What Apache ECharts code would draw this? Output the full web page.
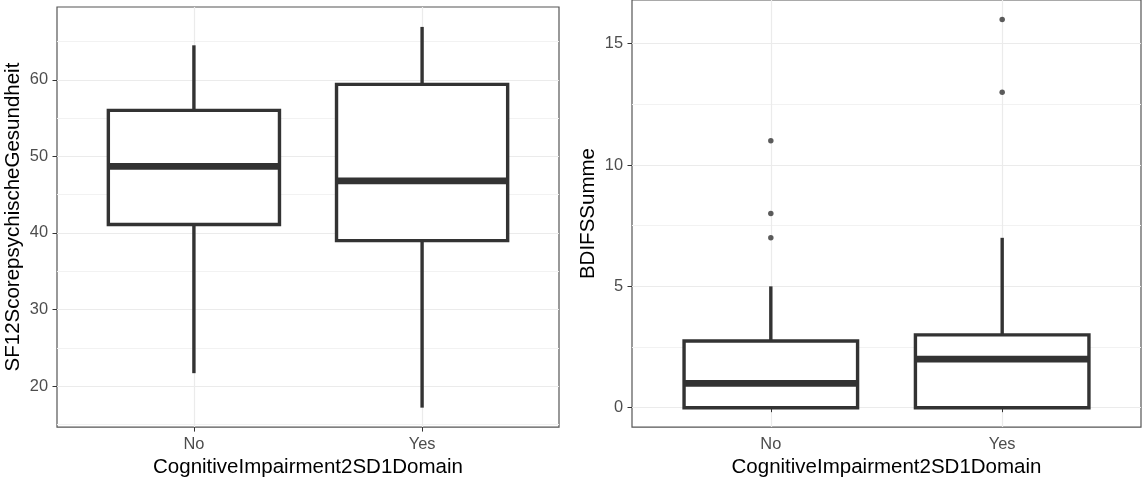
<!DOCTYPE html>
<html lang="en">
<head>
<meta charset="UTF-8">
<title>Boxplots</title>
<script src="https://cdn.jsdelivr.net/npm/echarts@6/dist/echarts.min.js"></script>
<style>html,body{margin:0;padding:0;background:#fff;}</style>
</head>
<body>
<div id="main" style="width:1143px;height:483px;"></div>
<script>
// x categories
const categories = ['No', 'Yes'];
// five-number summaries: [lower whisker, Q1, median, Q3, upper whisker]
const sfNo = [21.7, 41.1, 48.7, 56.0, 64.5];
const sfYes = [17.2, 39.0, 46.8, 59.4, 66.9];
const bdiNo = [0, 0, 1, 2.75, 5];
const bdiYes = [0, 0, 2, 3, 7];
// outliers (BDI panel)
const bdiOutNo = [7, 8, 11];
const bdiOutYes = [13, 16];
// y tick labels
const sfTicks = [20, 30, 40, 50, 60];
const bdiTicks = [0, 5, 10, 15];

const FONT = '"Liberation Sans", Arial, sans-serif';
const INK = '#333333';

const sfData = [sfNo, sfYes].map((s, i) => [i + 1].concat(s));
const bdiData = [bdiNo, bdiYes].map((s, i) => [i + 1].concat(s));
const bdiOut = bdiOutNo.map(v => [1, v]).concat(bdiOutYes.map(v => [2, v]));

// draws one ggplot-style box: whiskers, box, thick median
function renderBox(params, api) {
    const x = api.value(0);
    const half = api.size([0.75, 0])[0] / 2;
    const lo = api.coord([x, api.value(1)]);
    const q1 = api.coord([x, api.value(2)]);
    const med = api.coord([x, api.value(3)]);
    const q3 = api.coord([x, api.value(4)]);
    const hi = api.coord([x, api.value(5)]);
    const st = { stroke: INK, lineWidth: 3.4, fill: null };
    return {
        type: 'group',
        children: [
            { type: 'line', shape: { x1: q3[0], y1: q3[1], x2: hi[0], y2: hi[1] }, style: st },
            { type: 'line', shape: { x1: q1[0], y1: q1[1], x2: lo[0], y2: lo[1] }, style: st },
            { type: 'rect', shape: { x: q3[0] - half, y: q3[1], width: half * 2, height: q1[1] - q3[1] },
              style: { fill: '#ffffff', stroke: INK, lineWidth: 3.4 } },
            { type: 'line', shape: { x1: med[0] - half, y1: med[1], x2: med[0] + half, y2: med[1] },
              style: { stroke: INK, lineWidth: 6.8 } }
        ]
    };
}

function xAxisFor(idx) {
    return {
        type: 'value', gridIndex: idx, min: 0.4, max: 2.6,
        axisLine: { show: false },
        axisTick: { show: true, customValues: [1, 2], length: 4.5, lineStyle: { color: INK, width: 1 } },
        axisLabel: {
            customValues: [1, 2], formatter: v => categories[Math.round(v) - 1],
            color: '#4d4d4d', fontSize: 16.4, fontFamily: FONT, margin: 9
        },
        splitLine: { show: true, lineStyle: { color: '#ebebeb', width: 1.2 } },
        name: 'CognitiveImpairment2SD1Domain', nameLocation: 'middle', nameGap: 29,
        nameTextStyle: { color: '#000', fontSize: 20.5, fontFamily: FONT }
    };
}

function yAxisFor(idx, min, max, split, ticks, name) {
    return {
        type: 'value', gridIndex: idx, min: min, max: max, splitNumber: split,
        axisLine: { show: false },
        axisTick: { show: true, customValues: ticks, length: 4.5, lineStyle: { color: INK, width: 1 } },
        axisLabel: { customValues: ticks, color: '#4d4d4d', fontSize: 16.4, fontFamily: FONT, margin: 9 },
        splitLine: { show: true, lineStyle: { color: '#ebebeb', width: 1.2 } },
        minorTick: { show: false, splitNumber: 2 },
        minorSplitLine: { show: true, lineStyle: { color: '#f2f2f2', width: 1 } },
        name: name, nameLocation: 'middle', nameRotate: 90, nameGap: 33,
        nameTextStyle: { color: '#000', fontSize: 20.5, fontFamily: FONT }
    };
}

const chart = echarts.init(document.getElementById('main'));
chart.setOption({
    animation: false,
    backgroundColor: '#ffffff',
    grid: [
        { left: 57, top: 7, width: 502, height: 421, show: true, borderColor: '#555555', borderWidth: 1.2, backgroundColor: 'transparent' },
        { left: 632, top: 0, width: 509, height: 428, show: true, borderColor: '#555555', borderWidth: 1.2, backgroundColor: 'transparent' }
    ],
    xAxis: [xAxisFor(0), xAxisFor(1)],
    yAxis: [
        yAxisFor(0, 14.66, 69.5, 5, sfTicks, 'SF12ScorepsychischeGesundheit'),
        yAxisFor(1, -0.8, 16.8, 3, bdiTicks, 'BDIFSSumme')
    ],
    series: [
        { type: 'custom', xAxisIndex: 0, yAxisIndex: 0, renderItem: renderBox, data: sfData,
          encode: { x: 0, y: [1, 2, 3, 4, 5] } },
        { type: 'custom', xAxisIndex: 1, yAxisIndex: 1, renderItem: renderBox, data: bdiData,
          encode: { x: 0, y: [1, 2, 3, 4, 5] } },
        { type: 'scatter', xAxisIndex: 1, yAxisIndex: 1, data: bdiOut, symbolSize: 5.5,
          itemStyle: { color: INK } }
    ]
});
</script>
</body>
</html>
